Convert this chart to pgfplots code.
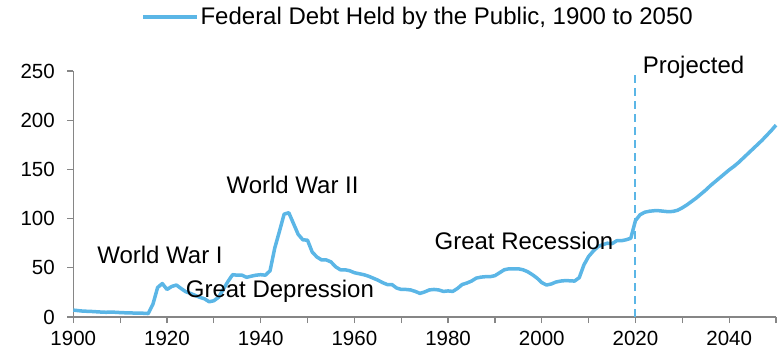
\documentclass[border=0pt]{standalone}
\usepackage{fontspec}
\setmainfont{Liberation Sans}
\usepackage{pgfplots}
\pgfplotsset{compat=1.18}
\definecolor{debt}{RGB}{91,182,230}
\definecolor{axgray}{RGB}{134,134,134}
\pgfplotstableread{
year value
1900 7.0
1901 6.5
1902 6.0
1903 5.8
1904 5.6
1905 5.3
1906 5.0
1907 4.8
1908 5.0
1909 4.8
1910 4.5
1911 4.3
1912 4.2
1913 4.0
1914 4.0
1915 3.8
1916 3.5
1917 13
1918 30
1919 34
1920 28
1921 31
1922 32.5
1923 29
1924 25.7
1925 24
1926 22
1927 20
1928 18.5
1929 15.5
1930 16.5
1931 20
1932 28
1933 36
1934 43
1935 42.5
1936 42.5
1937 40.3
1938 41.5
1939 42.5
1940 43
1941 42.5
1942 47
1943 70
1944 87
1945 104.5
1946 106
1947 95
1948 84
1949 78.5
1950 78
1951 66
1952 61
1953 58
1954 58
1955 56
1956 51
1957 48
1958 48
1959 47
1960 45
1961 44
1962 43
1963 41.5
1964 39.5
1965 37.5
1966 35
1967 33
1968 33
1969 29.5
1970 28
1971 28
1972 27.5
1973 26
1974 24
1975 25.5
1976 27.5
1977 28
1978 27.5
1979 26
1980 26.5
1981 26
1982 29
1983 33
1984 34.5
1985 36.5
1986 39.5
1987 40.5
1988 41
1989 41
1990 42
1991 45
1992 48
1993 49
1994 49
1995 49
1996 48
1997 46
1998 43
1999 39.5
2000 35
2001 32.5
2002 33.5
2003 35.5
2004 36.5
2005 37
2006 36.8
2007 36.5
2008 40
2009 53
2010 61.5
2011 67
2012 71.5
2013 73.5
2014 75
2015 74.5
2016 77.5
2017 77.5
2018 78.5
2019 80
2020 98
2021 104
2022 106.5
2023 107.5
2024 108
2025 108
2026 107.5
2027 107
2028 107.3
2029 108.5
2030 111
2031 114
2032 117.5
2033 121
2034 125
2035 129
2036 133.5
2037 137.5
2038 141.5
2039 145.5
2040 149.5
2041 153
2042 157
2043 161.5
2044 166
2045 170.5
2046 175
2047 179.5
2048 184.5
2049 189.5
2050 195
}\debttable
\begin{document}
\begin{tikzpicture}
\begin{axis}[
  scale only axis, width=702.7pt, height=246pt,
  at={(0pt,0pt)}, anchor=south west,
  xmin=1900, xmax=2050, ymin=0, ymax=250,
  axis lines=left, axis line style={axgray, line width=1.2pt, -},
  tick style={axgray, line width=1.2pt},
  tick align=outside, major tick length=6pt,
  xtick={1900,1910,...,2050},
  xticklabels={1900,,1920,,1940,,1960,,1980,,2000,,2020,,2040,{}},
  ytick={0,50,...,250},
  tick label style={font=\fontsize{20.5}{24}\selectfont, text=black},
  yticklabel style={xshift=-9pt},
  xticklabel style={yshift=-6.5pt, inner sep=1pt},
  /pgf/number format/assume math mode=true,
  clip=false,
  legend style={at={(0.4905,1.2195)}, anchor=center, draw=none, fill=none,
    font=\fontsize{24}{28}\selectfont, inner sep=0pt, nodes={inner sep=1.5pt}},
  legend image code/.code={\draw[#1] (0pt,0pt) -- (54pt,0pt);},
]
\addplot[debt, line width=3.5pt, line join=round, mark=none] table[x=year, y=value] {\debttable};
\addlegendentry{Federal Debt Held by the Public, 1900 to 2050}
\addplot[debt, line width=2pt, dash pattern=on 8pt off 5pt, forget plot] coordinates {(2020,0) (2020,250)};
\node[font=\fontsize{24}{28}\selectfont] at (axis cs:1918.5,63) {World War I};
\node[font=\fontsize{24}{28}\selectfont] at (axis cs:1946.8,134) {World War II};
\node[font=\fontsize{24}{28}\selectfont] at (axis cs:1944.1,26.5) {Great Depression};
\node[font=\fontsize{24}{28}\selectfont] at (axis cs:1996.2,77.2) {Great Recession};
\node[font=\fontsize{24}{28}\selectfont] at (axis cs:2032.4,254) {Projected};
\end{axis}
\pgfresetboundingbox
\path (-73.3pt,-34pt) rectangle (705.7pt,317pt);
\end{tikzpicture}
\end{document}
